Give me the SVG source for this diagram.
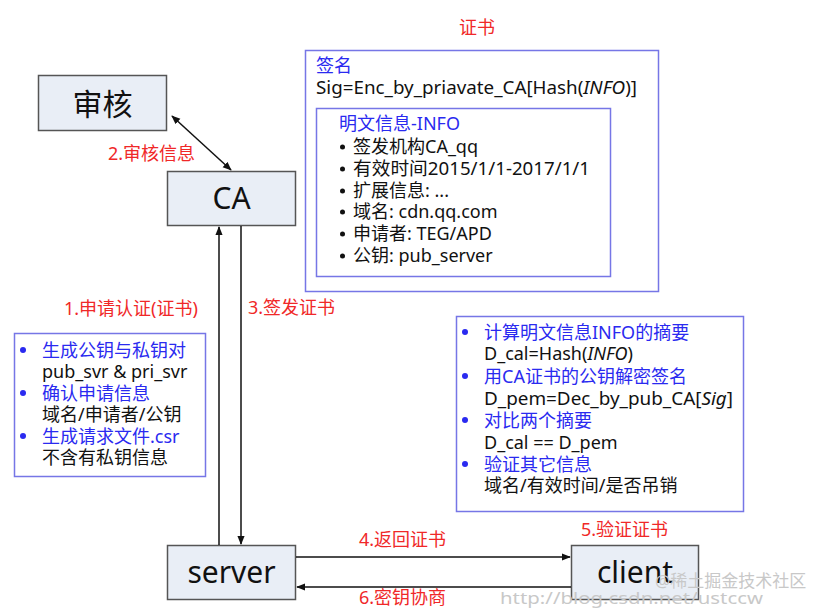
<svg xmlns="http://www.w3.org/2000/svg" width="830" height="609" viewBox="0 0 830 609">
<style>
text{font-family:"Noto Sans","Noto Sans CJK SC",sans-serif;}
.node{fill:#e9eef6;stroke:#555;stroke-width:1.5;}
.nt{font-size:30px;fill:#111;text-anchor:middle;dominant-baseline:central;}
.lbl{font-size:18px;fill:#f02828;dominant-baseline:central;}
.box{fill:#fff;stroke:#7676e6;stroke-width:1.5;}
.bt{font-size:18px;fill:#2a2af0;dominant-baseline:central;}
.kt{font-size:18px;fill:#111;dominant-baseline:central;}
.dot{fill:#2a2af0;}
.con{stroke:#111;stroke-width:1.5;fill:none;}
.wm{fill:#c8c8c8;font-size:17px;dominant-baseline:central;}
</style>
<defs>
<marker id="ah" viewBox="0 0 10 10" refX="9" refY="5" markerWidth="9" markerHeight="9" orient="auto-start-reverse" markerUnits="userSpaceOnUse">
<path d="M0,1 L10,5 L0,9 Z" fill="#111"/>
</marker>
</defs>
<rect width="830" height="609" fill="#fff"/>

<g id="cert">
<text x="477" y="27" class="lbl" text-anchor="middle">证书</text>
<rect x="305.5" y="50.5" width="353" height="241" class="box"/>
<text x="316" y="65" class="bt">签名</text>
<text x="316" y="87" class="kt" textLength="321" lengthAdjust="spacingAndGlyphs">Sig=Enc_by_priavate_CA[Hash(<tspan font-style="italic">INFO</tspan>)]</text>
<rect x="316.5" y="108.5" width="294" height="168" class="box"/>
<text x="339" y="123" class="bt">明文信息-INFO</text>
<g fill="#111">
<circle cx="342.5" cy="147" r="2.5"/><circle cx="342.5" cy="169" r="2.5"/><circle cx="342.5" cy="191" r="2.5"/>
<circle cx="342.5" cy="212" r="2.5"/><circle cx="342.5" cy="234" r="2.5"/><circle cx="342.5" cy="256" r="2.5"/>
</g>
<text x="353" y="146" class="kt">签发机构CA_qq</text>
<text x="353" y="168" class="kt" textLength="237" lengthAdjust="spacingAndGlyphs">有效时间2015/1/1-2017/1/1</text>
<text x="353" y="190" class="kt">扩展信息: ...</text>
<text x="353" y="211" class="kt">域名: cdn.qq.com</text>
<text x="353" y="233" class="kt">申请者: TEG/APD</text>
<text x="353" y="255" class="kt">公钥: pub_server</text>
</g>

<g id="shenhe">
<rect x="38.5" y="75.5" width="128" height="55" class="node"/>
<text x="102.5" y="103" class="nt">审核</text>
</g>

<g id="ca">
<rect x="167.5" y="171.5" width="128" height="54" class="node"/>
<text x="231.5" y="197" class="nt">CA</text>
</g>

<g id="server">
<rect x="167.5" y="545.5" width="128" height="54" class="node"/>
<text x="231.5" y="571" class="nt">server</text>
</g>

<g id="client">
<rect x="571.5" y="545.5" width="127" height="54" class="node"/>
<text x="635" y="571" class="nt">client</text>
</g>

<g id="server-notes">
<rect x="14.5" y="333.5" width="191" height="143" class="box"/>
<circle cx="23" cy="350" r="3" class="dot"/><text x="42" y="350" class="bt">生成公钥与私钥对</text>
<text x="42" y="371" class="kt">pub_svr &amp; pri_svr</text>
<circle cx="23" cy="393" r="3" class="dot"/><text x="42" y="393" class="bt">确认申请信息</text>
<text x="42" y="414" class="kt">域名/申请者/公钥</text>
<circle cx="23" cy="436" r="3" class="dot"/><text x="42" y="436" class="bt">生成请求文件.csr</text>
<text x="42" y="457" class="kt">不含有私钥信息</text>
</g>

<g id="client-notes">
<rect x="456.5" y="316.5" width="287" height="195" class="box"/>
<circle cx="465" cy="332" r="3" class="dot"/><text x="484" y="332" class="bt">计算明文信息INFO的摘要</text>
<text x="484" y="353" class="kt">D_cal=Hash(<tspan font-style="italic">INFO</tspan>)</text>
<circle cx="465" cy="376" r="3" class="dot"/><text x="484" y="376" class="bt">用CA证书的公钥解密签名</text>
<text x="484" y="398" class="kt" textLength="249" lengthAdjust="spacingAndGlyphs">D_pem=Dec_by_pub_CA[<tspan font-style="italic">Sig</tspan>]</text>
<circle cx="465" cy="420" r="3" class="dot"/><text x="484" y="420" class="bt">对比两个摘要</text>
<text x="484" y="442" class="kt">D_cal == D_pem</text>
<circle cx="465" cy="464" r="3" class="dot"/><text x="484" y="464" class="bt">验证其它信息</text>
<text x="484" y="485" class="kt">域名/有效时间/是否吊销</text>
</g>

<g id="connectors">
<line x1="172" y1="116" x2="231" y2="170" class="con" marker-start="url(#ah)" marker-end="url(#ah)"/>
<line x1="219" y1="545" x2="219" y2="227" class="con" marker-end="url(#ah)"/>
<line x1="241" y1="226" x2="241" y2="544" class="con" marker-end="url(#ah)"/>
<line x1="296" y1="557" x2="570" y2="557" class="con" marker-end="url(#ah)"/>
<line x1="571" y1="587" x2="297" y2="587" class="con" marker-end="url(#ah)"/>
<text x="108" y="153" class="lbl">2.审核信息</text>
<text x="64" y="308" class="lbl">1.申请认证(证书)</text>
<text x="248" y="307" class="lbl">3.签发证书</text>
<text x="359" y="539" class="lbl">4.返回证书</text>
<text x="581" y="529" class="lbl">5.验证证书</text>
<text x="359" y="597" class="lbl">6.密钥协商</text>
</g>

<g id="watermark">
<text x="655" y="580" class="wm">@稀土掘金技术社区</text>
<text x="500" y="597" class="wm" font-family="'Liberation Mono',monospace" textLength="263" lengthAdjust="spacingAndGlyphs">http://blog.csdn.net/ustccw</text>
</g>
</svg>
